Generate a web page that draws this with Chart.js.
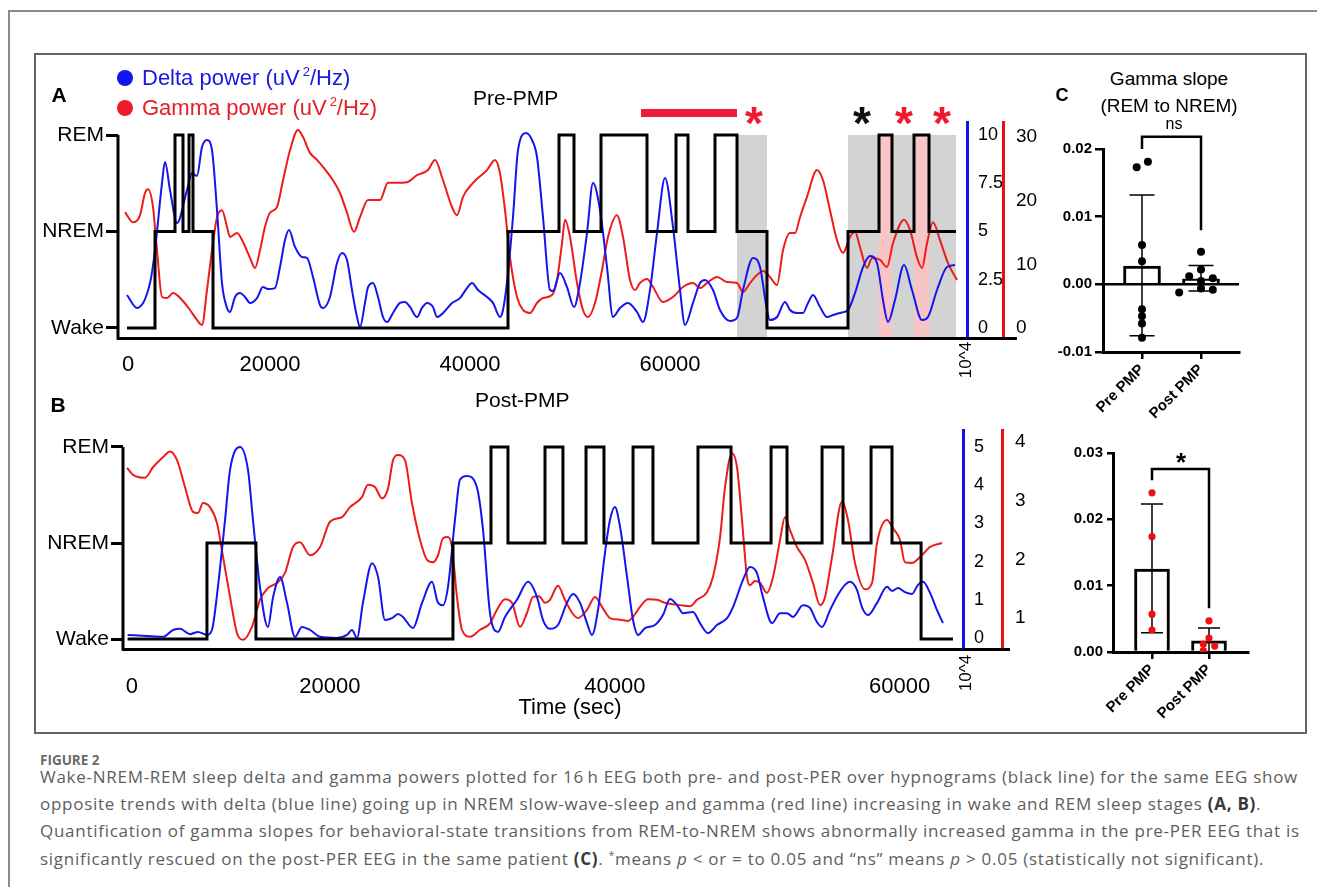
<!DOCTYPE html>
<html>
<head>
<meta charset="utf-8">
<script src="https://cdn.jsdelivr.net/npm/chart.js@4.4.1/dist/chart.umd.min.js"></script>
<style>
  body { margin: 0; background: #fff; }
  #page { position: relative; width: 1317px; height: 887px; overflow: hidden; font-family: 'Liberation Sans', Arial, sans-serif; color: #000; }
  .abs { position: absolute; white-space: nowrap; line-height: 1; }
  .c { transform: translate(-50%, -50%); }
  .l { transform: translateY(-50%); }
  canvas { position: absolute; }
  .dot { position: absolute; width: 16px; height: 16px; border-radius: 50%; }
  .cap { position: absolute; left: 40px; white-space: nowrap; font-family: 'Open Sans', sans-serif; font-size: 17px; color: #5e5e5e; line-height: 27px; }
  .cap b { color: #3a3a3a; }
</style>
</head>
<body>
<div id="page">
  <!-- page frame and figure frame -->
  <div class="abs" style="left:8px;top:10px;width:1400px;height:900px;border-top:2px solid #8c8c8c;border-left:2px solid #8c8c8c;"></div>
  <div class="abs" style="left:34px;top:53px;width:1273px;height:681px;border:2px solid #666;box-sizing:border-box;"></div>

  <canvas id="chartA" width="1010" height="296" style="left:36px;top:102px;width:1010px;height:296px"></canvas>
  <canvas id="chartB" width="1010" height="296" style="left:36px;top:410px;width:1010px;height:296px"></canvas>
  <canvas id="chartC1" width="213" height="292" style="left:1040px;top:135px;width:213px;height:292px"></canvas>
  <canvas id="chartC2" width="217" height="292" style="left:1045px;top:439px;width:217px;height:292px"></canvas>

  <!-- panel A texts -->
  <div class="abs c" style="left:59px;top:94px;font-size:21px;font-weight:bold">A</div>
  <div class="dot" style="left:117px;top:70px;background:#1414f0"></div>
  <div class="abs l" style="left:142px;top:78px;font-size:22px;color:#1818e0">Delta power (uV<span style="position:relative;top:-9px;font-size:13px;margin-left:3px">2</span>/Hz)</div>
  <div class="dot" style="left:117px;top:100px;background:#ee1b2b"></div>
  <div class="abs l" style="left:142px;top:108px;font-size:22px;color:#e81c24">Gamma power (uV<span style="position:relative;top:-9px;font-size:13px;margin-left:3px">2</span>/Hz)</div>
  <div class="abs l" style="left:473px;top:97px;font-size:21px">Pre-PMP</div>
  <div class="abs c" style="left:965px;top:360px;font-size:17px;transform:translate(-50%,-50%) rotate(-90deg)">10^4</div>

  <!-- panel B texts -->
  <div class="abs c" style="left:58px;top:404px;font-size:21px;font-weight:bold">B</div>
  <div class="abs l" style="left:475px;top:399px;font-size:21px">Post-PMP</div>
  <div class="abs c" style="left:965px;top:673px;font-size:17px;transform:translate(-50%,-50%) rotate(-90deg)">10^4</div>
  <div class="abs c" style="left:570px;top:707px;font-size:22px">Time (sec)</div>

  <!-- panel C texts -->
  <div class="abs c" style="left:1062px;top:95px;font-size:18px;font-weight:bold">C</div>
  <div class="abs c" style="left:1169px;top:78px;font-size:19px">Gamma slope</div>
  <div class="abs c" style="left:1169px;top:105px;font-size:19px">(REM to NREM)</div>
  <div class="abs c" style="left:1174px;top:124px;font-size:16px">ns</div>
  <div class="abs c" style="left:1181px;top:462px;font-size:26px;font-weight:bold">*</div>

  <!-- caption -->
  <div class="abs" style="left:40px;top:754px;font-family:'Open Sans',sans-serif;font-size:13.5px;font-weight:bold;color:#6a6a6a">FIGURE 2</div>
  <div class="cap" style="top:763px">Wake-NREM-REM sleep delta and gamma powers plotted for 16&#8201;h EEG both pre- and post-PER over hypnograms (black line) for the same EEG show</div>
  <div class="cap" style="top:790px">opposite trends with delta (blue line) going up in NREM slow-wave-sleep and gamma (red line) increasing in wake and REM sleep stages <b>(A, B)</b>.</div>
  <div class="cap" style="top:817px">Quantification of gamma slopes for behavioral-state transitions from REM-to-NREM shows abnormally increased gamma in the pre-PER EEG that is</div>
  <div class="cap" style="top:845px">significantly rescued on the post-PER EEG in the same patient <b>(C)</b>. <span style="position:relative;top:-6px;font-size:10px">*</span>means <i>p</i> &lt; or = to 0.05 and “ns” means <i>p</i> &gt; 0.05 (statistically not significant).</div>
</div>

<script>
// ---- shared labels ----
var stageLabels = ["Wake", "NREM", "REM"];
var xTickLabels = ["0", "20000", "40000", "60000"];
var xTickPosA = [5800, 20000, 40000, 60000];
var xTickPosB = [6100, 20000, 40000, 60000];
var deltaTicksA = [0, 2.5, 5, 7.5, 10];
var gammaTicksA = [0, 10, 20, 30];
var deltaTicksB = [0, 1, 2, 3, 4, 5];
var gammaTicksB = [1, 2, 3, 4];

// ---- panel A (Pre-PMP) ----
var hypnoA_time = [5700, 8500, 10500, 11300, 11900, 12300, 14300, 43800, 48900, 50400, 53100, 57700,
  60600, 61800, 64500, 66700, 69700, 77800, 80900, 82200, 84400, 85900, 88600];
var hypnoA_stage = [0, 1, 2, 1, 2, 1, 0, 1, 2, 1, 2, 1, 2, 1, 2, 1, 0, 1, 2, 1, 2, 1, 1];

var deltaA_time = [5700, 6700, 8000, 8500, 9200, 9500, 10000, 10700, 11700, 12200,
  12700, 13200, 13700, 14200, 14700, 15200, 15700, 16000, 16500, 17000,
  17500, 18000, 18700, 19300, 19800, 20500, 21000, 21500, 21900, 22500,
  23200, 23700, 24300, 25000, 25300, 26000, 26700, 27200, 27700, 28200,
  28700, 29000, 29500, 29800, 30300, 30800, 31300, 31700, 32300, 33000,
  33500, 34000, 34700, 35200, 35700, 36300, 36700, 37300, 38200, 39000,
  39700, 40200, 40800, 41700, 42300, 43000, 43300, 43800, 44300, 44800,
  45600, 46200, 46700, 47300, 48000, 48300, 49000, 49700, 50400, 51000,
  51700, 52300, 53000, 53700, 54300, 55000, 55800, 56700, 57300, 58000,
  58700, 59500, 60300, 61000, 61500, 62300, 63000, 63500, 64300, 65000,
  66000, 66700, 67300, 68300, 69000, 69700, 70000, 70700, 71500, 72000,
  72700, 73300, 73800, 74300, 75000, 75700, 76300, 77000, 77800, 78500,
  79300, 80000, 80700, 81300, 81800, 82500, 83400, 84200, 85200, 85800,
  86700, 87700, 88500];
var deltaA_power = [1.71, 1.04, 2.33, 4.04, 7.51, 8.60, 7.15, 5.44, 7.15, 8.03,
  7.88, 9.38, 9.74, 9.22, 6.11, 2.33, 1.04, 0.83, 1.61, 1.81,
  1.61, 1.30, 1.55, 2.12, 2.02, 2.07, 3.16, 4.56, 5.08, 4.20,
  3.68, 3.63, 2.64, 1.19, 1.04, 1.61, 3.37, 3.89, 3.52, 1.97,
  0.57, 0.05, 1.30, 2.12, 2.33, 1.61, 0.57, 0.31, 0.78, 1.30,
  1.35, 1.09, 0.57, 1.04, 1.30, 1.09, 0.57, 0.78, 1.30, 1.55,
  2.07, 2.33, 1.97, 1.61, 1.30, 0.57, 0.93, 2.85, 5.75, 9.22,
  10.1, 9.74, 8.86, 5.75, 1.97, 1.92, 2.85, 2.12, 1.09, 2.33,
  4.92, 7.51, 6.11, 3.16, 0.57, 1.04, 1.30, 0.83, 0.31, 1.97,
  4.92, 7.77, 5.23, 1.97, 0.16, 1.30, 2.33, 2.49, 1.97, 0.93,
  0.36, 0.52, 1.97, 3.63, 3.16, 0.93, 0.41, 0.57, 1.35, 0.93,
  0.78, 0.78, 1.30, 1.71, 1.09, 0.57, 0.67, 0.78, 0.93, 1.81,
  3.16, 3.73, 3.37, 1.45, 0.31, 1.45, 3.26, 1.97, 0.41, 0.57,
  1.97, 3.16, 3.26];

var gammaA_time = [5500, 6300, 7000, 7500, 7800, 8300, 8700, 9200, 9700, 10300,
  11200, 12000, 12700, 13200, 13700, 14200, 14700, 15200, 15700, 16000,
  16700, 17300, 18000, 18500, 19000, 19500, 20000, 20700, 21300, 22000,
  22800, 23300, 24000, 24700, 25300, 26300, 27000, 27700, 28400, 29000,
  29800, 31000, 31800, 32700, 33700, 34700, 35800, 36500, 37300, 38200,
  38700, 39300, 40300, 41700, 42500, 43000, 43500, 44000, 44700, 45300,
  46000, 46700, 47300, 48200, 48700, 49200, 49500, 50000, 50700, 51300,
  51800, 52500, 53200, 53800, 54700, 55300, 56000, 56500, 57000, 57700,
  58300, 59300, 60300, 61300, 62300, 63000, 63700, 64700, 65700, 66700,
  67300, 68000, 68700, 69300, 70000, 70700, 71300, 72000, 72500, 73000,
  73700, 74700, 75300, 76000, 76700, 77300, 78000, 78500, 79000, 79700,
  80200, 81000, 81700, 82300, 83400, 84000, 84700, 85200, 85700, 86300,
  87000, 87800, 88700];
var gammaA_power = [18.2, 16.6, 17.7, 21.2, 21.8, 19.0, 12.2, 4.87, 4.71, 5.49,
  4.40, 2.83, 1.26, 0.47, 5.97, 12.2, 17.4, 18.5, 15.9, 14.3,
  14.9, 13.5, 11.0, 9.42, 12.2, 15.9, 18.1, 19.0, 23.2, 27.9,
  31.1, 30.0, 27.5, 26.4, 25.3, 23.2, 21.2, 18.1, 15.1, 17.4,
  20.1, 20.1, 22.8, 22.8, 22.9, 24.0, 24.8, 26.4, 23.2, 19.0,
  17.7, 20.6, 22.8, 24.8, 26.4, 24.3, 18.5, 11.1, 4.87, 2.83,
  2.35, 3.92, 4.71, 5.18, 7.54, 13.3, 17.0, 14.3, 7.06, 2.83,
  1.73, 3.92, 9.11, 14.3, 17.7, 14.3, 7.54, 5.97, 7.06, 7.69,
  6.44, 4.08, 4.87, 6.44, 7.06, 6.28, 7.06, 8.01, 7.22, 7.06,
  5.65, 7.06, 8.32, 8.95, 8.01, 6.75, 12.2, 14.9, 14.9, 17.4,
  20.6, 24.8, 23.2, 18.5, 13.8, 11.8, 14.3, 15.1, 12.7, 9.42,
  11.0, 10.7, 9.58, 13.3, 17.0, 15.4, 11.1, 9.42, 13.3, 16.6,
  13.8, 10.2, 7.54];

// marked REM-to-NREM windows in panel A
var grayBandsA = [[66700, 69700], [77800, 88600]];
var pinkBandsA = [[80900, 82200], [84400, 85900]];
var redBarA = [57100, 66700];
var starTimesA = [68400, 79200, 83400, 87200];
var starColorsA = ["#ee1b2b", "#111", "#ee1b2b", "#ee1b2b"];

// ---- panel B (Post-PMP) ----
var hypnoB_time = [5800, 11370, 14810, 28640, 31310, 32500, 35100, 36360, 37980, 39240, 41280,
  42680, 45840, 48160, 50970, 52090, 54550, 56020, 57990, 59460, 61500, 63740];
var hypnoB_stage = [0, 1, 0, 1, 2, 1, 2, 1, 2, 1, 2, 1, 2, 1, 2, 1, 2, 1, 2, 1, 0, 0];

var deltaB_time = [5800, 7160, 8280, 8990, 9480, 10180, 10740, 11370, 11720, 12140,
  12640, 12990, 13690, 14250, 14600, 15090, 15650, 16010, 16500, 16990,
  17550, 18040, 18600, 19310, 20500, 21200, 21550, 21900, 22320, 22960,
  23380, 23870, 24360, 24780, 25130, 25830, 26470, 27170, 27590, 27940,
  28290, 28780, 29130, 29620, 30330, 30750, 31240, 31800, 32290, 33130,
  33910, 34540, 34960, 35450, 36010, 36640, 37070, 37560, 38050, 38400,
  38820, 39310, 39660, 40010, 40370, 40860, 41280, 41630, 42120, 42820,
  43380, 43880, 44370, 44790, 45490, 45980, 46540, 47170, 47880, 48300,
  49000, 49490, 49980, 50400, 51040, 51600, 52090, 52510, 53210, 53700,
  54190, 54550, 55110, 55670, 56160, 56510, 57000, 57350, 57770, 58410,
  59110, 59460, 59880, 60370, 60860, 61280, 61640, 62130, 62620, 63040];
var deltaB_power = [0.08, 0.05, 0.03, 0.21, 0.24, 0.10, 0.16, 0.08, 0.21, 1.34,
  3.09, 4.40, 5.00, 4.40, 3.09, 1.34, 0.29, 1.07, 1.60, 0.92,
  0.03, 0.29, 0.21, 0.03, 0.00, 0.08, 0.21, 0.00, 0.92, 1.96,
  1.60, 0.47, 0.52, 0.63, 0.55, 0.26, 0.92, 1.47, 0.92, 0.86,
  1.34, 3.09, 4.14, 4.24, 3.93, 2.83, 0.65, 0.16, 0.55, 1.00,
  1.47, 1.07, 0.47, 0.24, 0.34, 0.92, 1.15, 0.92, 0.39, 0.08,
  0.73, 2.23, 3.09, 3.43, 2.91, 1.60, 0.47, 0.08, 0.26, 0.34,
  0.60, 1.02, 0.86, 0.65, 0.68, 0.39, 0.13, 0.34, 0.52, 0.81,
  1.52, 1.86, 1.70, 1.07, 0.39, 0.65, 0.65, 0.55, 0.86, 0.79,
  0.42, 0.29, 0.73, 1.13, 1.39, 1.47, 1.26, 0.81, 0.60, 0.92,
  1.34, 1.23, 1.31, 1.20, 1.15, 1.39, 1.47, 1.18, 0.73, 0.39];

var gammaB_time = [5760, 6180, 7020, 7580, 8280, 8780, 9270, 9830, 10390, 10740,
  11090, 11580, 12070, 12500, 12990, 13480, 13900, 14530, 15090, 15650,
  16290, 16850, 17410, 17900, 18600, 19310, 20010, 20850, 21410, 22250,
  22670, 23170, 23660, 24080, 24430, 24780, 25270, 25760, 26330, 26820,
  27240, 27590, 27940, 28290, 28570, 28920, 29270, 29840, 30540, 31240,
  31730, 32290, 32780, 33350, 33840, 34260, 34680, 35100, 35450, 36010,
  36500, 37000, 37420, 38050, 38610, 39100, 39660, 40370, 40930, 41280,
  41770, 42330, 42960, 43520, 44580, 45280, 45770, 46470, 46890, 47390,
  47740, 48230, 48580, 48930, 49280, 49490, 49840, 50190, 50680, 51110,
  51600, 51950, 52300, 52790, 53350, 53910, 54410, 54760, 55250, 55950,
  56370, 56860, 57560, 58060, 58410, 59110, 59530, 60020, 60370, 60860,
  61430, 62130, 62970];
var gammaB_power = [3.56, 3.44, 3.39, 3.57, 3.74, 3.84, 3.69, 3.23, 2.81, 2.79,
  2.96, 2.89, 2.62, 2.04, 1.36, 0.74, 0.63, 0.85, 1.31, 1.51,
  1.60, 1.77, 2.21, 2.29, 2.07, 2.21, 2.64, 2.72, 2.89, 3.06,
  3.27, 3.23, 3.04, 3.21, 3.69, 3.78, 3.69, 2.96, 2.33, 1.99,
  1.95, 2.07, 2.36, 2.38, 2.21, 1.36, 0.80, 0.68, 0.80, 0.91,
  1.14, 1.32, 1.26, 0.85, 1.09, 1.36, 1.37, 1.26, 1.31, 1.55,
  1.31, 1.09, 1.00, 1.14, 1.36, 1.19, 1.00, 0.97, 0.95, 1.02,
  1.19, 1.32, 1.31, 1.26, 1.22, 1.20, 1.31, 1.44, 1.70, 2.38,
  3.23, 3.81, 3.57, 2.67, 1.70, 1.56, 1.63, 1.60, 1.43, 1.70,
  2.33, 2.72, 2.50, 2.21, 1.99, 1.60, 1.22, 1.36, 2.04, 2.98,
  2.67, 1.94, 1.49, 1.60, 2.28, 2.67, 2.53, 2.33, 1.95, 1.94,
  2.04, 2.21, 2.28];

// ---- panel C (gamma slope, REM to NREM) ----
var groups = ["Pre PMP", "Post PMP"];
var groupPos = [0, 1];
var slopeMeanC1 = [0.0027, 0.0008];
var slopeSdHighC1 = [0.0132, 0.0028];
var slopeSdLowC1 = [-0.0076, -0.0010];
var slopePreC1 = [0.0173, 0.0181, 0.0058, 0.0034, -0.0037, -0.0047, -0.0058, -0.0079];
var jitterPreC1 = [-0.09, 0.1, 0, 0, 0, 0, 0, 0];
var slopePostC1 = [0.0048, 0.0022, 0.0012, 0.0009, 0.0005, -0.0006, -0.0008, -0.0012];
var jitterPostC1 = [0, 0, -0.2, 0.2, 0, 0, 0.2, -0.37];
var yTicksC1 = [-0.01, 0, 0.01, 0.02];

var slopeMeanC2 = [0.0125, 0.0017];
var slopeSdHighC2 = [0.0223, 0.0036];
var slopeSdLowC2 = [0.0029, 0.0];
var slopePreC2 = [0.0240, 0.0174, 0.0057, 0.0033];
var jitterPreC2 = [0, 0, 0, 0];
var slopePostC2 = [0.0047, 0.0021, 0.0012, 0.0009, 0.0002];
var jitterPostC2 = [0, 0, -0.1, 0.1, -0.1];
var yTicksC2 = [0, 0.01, 0.02, 0.03];

var BLUE = "#1414ee";
var RED = "#ee1b1b";
Chart.defaults.font.family = "'Liberation Sans', Arial, sans-serif";
Chart.defaults.color = "#000";

function pts(xs, ys) {
  return xs.map(function (x, i) { return { x: x, y: ys[i] }; });
}
function fixedTicks(values) {
  return function (scale) { scale.ticks = values.map(function (v) { return { value: v }; }); };
}
function setWidth(w) { return function (s) { s.width = w; }; }
function setHeight(h) { return function (s) { s.height = h; }; }

// shaded windows, left axis, axis extension, red bar and stars
function sleepExtras(p) {
  return {
    id: "sleepExtras",
    beforeDatasetsDraw: function (chart) {
      var ctx = chart.ctx, area = chart.chartArea, x = chart.scales.x;
      var top = chart.scales.yH.getPixelForValue(2);
      ctx.save();
      function band(r, color) {
        var a = x.getPixelForValue(r[0]), b = x.getPixelForValue(r[1]);
        ctx.fillStyle = color;
        ctx.fillRect(a, top, b - a, area.bottom - top - 1);
      }
      p.gray.forEach(function (r) { band(r, "#d3d3d3"); });
      p.pink.forEach(function (r) { band(r, "#f7c5c6"); });
      ctx.restore();
    },
    afterDatasetsDraw: function (chart) {
      var ctx = chart.ctx, area = chart.chartArea, x = chart.scales.x;
      ctx.save();
      ctx.strokeStyle = "#000";
      ctx.lineWidth = 3;
      ctx.beginPath();
      ctx.moveTo(area.left, chart.scales.yH.getPixelForValue(2));
      ctx.lineTo(area.left, area.bottom + 1.5);
      ctx.moveTo(area.right, area.bottom + 0.5);
      ctx.lineTo(area.right + p.axisExtra, area.bottom + 0.5);
      ctx.stroke();
      if (p.bar) {
        ctx.strokeStyle = "#ee1b3a";
        ctx.lineWidth = 8;
        ctx.beginPath();
        ctx.moveTo(x.getPixelForValue(p.bar[0]), area.top - 9);
        ctx.lineTo(x.getPixelForValue(p.bar[1]), area.top - 9);
        ctx.stroke();
      }
      ctx.font = "bold 46px 'Liberation Sans', Arial, sans-serif";
      ctx.textAlign = "center";
      ctx.textBaseline = "alphabetic";
      p.stars.forEach(function (t, i) {
        ctx.fillStyle = p.starColors[i];
        ctx.fillText("*", x.getPixelForValue(t), area.top + 17);
      });
      ctx.restore();
    }
  };
}

function sleepChart(id, p) {
  return new Chart(document.getElementById(id), {
    type: "line",
    data: {
      datasets: [
        { data: pts(p.hypT, p.hypS), yAxisID: "yH", stepped: "before", borderColor: "#000",
          borderWidth: 3, pointRadius: 0, borderJoinStyle: "miter" },
        { data: pts(p.dT, p.dV), yAxisID: "yD", borderColor: BLUE, borderWidth: 2,
          pointRadius: 0, cubicInterpolationMode: "monotone" },
        { data: pts(p.gT, p.gV), yAxisID: "yG", borderColor: RED, borderWidth: 2,
          pointRadius: 0, cubicInterpolationMode: "monotone" }
      ]
    },
    options: {
      responsive: false,
      animation: false,
      events: [],
      layout: { padding: { top: 20 } },
      plugins: { legend: { display: false }, tooltip: { enabled: false } },
      scales: {
        x: {
          type: "linear", min: p.xMin, max: p.xMax, bounds: "data",
          grid: { display: false },
          border: { display: true, width: 3, color: "#000" },
          afterBuildTicks: fixedTicks(p.xTicks),
          ticks: { callback: function (v, i) { return xTickLabels[i]; }, font: { size: 22 },
            padding: p.xPad, maxRotation: 0, autoSkip: false },
          afterFit: setHeight(p.xH)
        },
        yH: {
          type: "linear", position: "left", min: p.hMin, max: p.hMax, bounds: "data",
          grid: { display: true, drawOnChartArea: false, drawTicks: true, tickLength: 12, lineWidth: 3, color: "#000" },
          border: { display: false },
          afterBuildTicks: fixedTicks([0, 1, 2]),
          ticks: { callback: function (v, i) { return stageLabels[i]; }, font: { size: 21 }, padding: 2, autoSkip: false },
          afterFit: setWidth(p.leftW)
        },
        yD: {
          type: "linear", position: "right", weight: 0, min: p.dMin, max: p.dMax, bounds: "data",
          grid: { display: false },
          border: { display: true, width: 3, color: "#1010ee" },
          afterBuildTicks: fixedTicks(p.dTicks),
          ticks: { font: { size: 18 }, padding: 3, autoSkip: false, callback: function (v) { return String(v); } },
          afterFit: setWidth(p.dW)
        },
        yG: {
          type: "linear", position: "right", weight: 1, min: p.gMin, max: p.gMax, bounds: "data",
          grid: { display: false },
          border: { display: true, width: 3, color: "#e81010" },
          afterBuildTicks: fixedTicks(p.gTicks),
          ticks: { font: { size: 19 }, padding: 5, autoSkip: false, callback: function (v) { return String(v); } },
          afterFit: setWidth(p.gW)
        }
      }
    },
    plugins: [sleepExtras(p)]
  });
}

sleepChart("chartA", {
  hypT: hypnoA_time, hypS: hypnoA_stage, dT: deltaA_time, dV: deltaA_power, gT: gammaA_time, gV: gammaA_power,
  xMin: 4800, xMax: 89700, xTicks: xTickPosA, xPad: 6, xH: 60,
  hMin: -0.104, hMax: 2.135, dMin: -0.518, dMax: 10.674, gMin: -1.571, gMax: 32.35,
  dTicks: deltaTicksA, gTicks: gammaTicksA, leftW: 82, dW: 36, gW: 43, axisExtra: 50,
  gray: grayBandsA, pink: pinkBandsA, bar: redBarA, stars: starTimesA, starColors: starColorsA
});

sleepChart("chartB", {
  hypT: hypnoB_time, hypS: hypnoB_stage, dT: deltaB_time, dV: deltaB_power, gT: gammaB_time, gV: gammaB_power,
  xMin: 5476, xMax: 64444, xTicks: xTickPosB, xPad: 17, xH: 57,
  hMin: -0.104, hMax: 2.177, dMin: -0.288, dMax: 5.445, gMin: 0.472, gMax: 4.205,
  dTicks: deltaTicksB, gTicks: gammaTicksB, leftW: 87, dW: 39, gW: 44, axisExtra: 47,
  gray: [], pink: [], bar: null, stars: [], starColors: []
});

// error bars and significance bracket
function statsExtras(p) {
  return {
    id: "statsExtras",
    afterDatasetDraw: function (chart, args) {
      if (args.index !== 0) return;
      var ctx = chart.ctx, x = chart.scales.x, y = chart.scales.y;
      ctx.save();
      ctx.strokeStyle = "#000";
      ctx.lineWidth = 1.5;
      groupPos.forEach(function (g, i) {
        var px = x.getPixelForValue(g), hi = y.getPixelForValue(p.hi[i]), lo = y.getPixelForValue(p.lo[i]);
        ctx.beginPath();
        ctx.moveTo(px, hi); ctx.lineTo(px, lo);
        ctx.moveTo(px - p.cap, hi); ctx.lineTo(px + p.cap, hi);
        ctx.moveTo(px - p.cap, lo); ctx.lineTo(px + p.cap, lo);
        ctx.stroke();
      });
      ctx.restore();
    },
    afterDraw: function (chart) {
      var ctx = chart.ctx, x = chart.scales.x, y = chart.scales.y, b = p.bracket;
      var x0 = x.getPixelForValue(groupPos[0]), x1 = x.getPixelForValue(groupPos[1]);
      ctx.save();
      ctx.strokeStyle = "#000";
      ctx.lineWidth = 2.5;
      ctx.beginPath();
      ctx.moveTo(x0, y.getPixelForValue(b[1]));
      ctx.lineTo(x0, y.getPixelForValue(b[0]));
      ctx.lineTo(x1, y.getPixelForValue(b[0]));
      ctx.lineTo(x1, y.getPixelForValue(b[2]));
      ctx.stroke();
      ctx.restore();
    }
  };
}

function slopeChart(id, p) {
  var dots = p.pre.map(function (v, i) { return { x: groupPos[0] + p.preJ[i], y: v }; })
    .concat(p.post.map(function (v, i) { return { x: groupPos[1] + p.postJ[i], y: v }; }));
  return new Chart(document.getElementById(id), {
    type: "bar",
    data: {
      datasets: [
        { type: "bar", data: pts(groupPos, p.mean), backgroundColor: "#fff", borderColor: "#000",
          borderWidth: 3, barThickness: p.barW, order: 2 },
        { type: "scatter", data: dots, backgroundColor: p.dot, pointBorderWidth: 0,
          pointRadius: p.r, order: 1 }
      ]
    },
    options: {
      responsive: false,
      animation: false,
      events: [],
      layout: { padding: { top: 14, right: 14 } },
      plugins: { legend: { display: false }, tooltip: { enabled: false } },
      scales: {
        x: {
          type: "linear", min: p.xMin, max: p.xMax, offset: false, bounds: "data",
          grid: { offset: false, drawOnChartArea: false, drawTicks: true, tickLength: 7, lineWidth: 2.5, color: "#000" },
          border: { display: true, width: 3, color: "#000" },
          afterBuildTicks: fixedTicks(groupPos),
          ticks: { callback: function (v, i) { return groups[i]; }, autoSkip: false, minRotation: 45, maxRotation: 45,
            font: { size: 15, weight: "bold" }, padding: 2 },
          afterFit: setHeight(p.xH)
        },
        y: {
          type: "linear", min: p.yTicks[0], max: p.yTicks[p.yTicks.length - 1], bounds: "data",
          grid: { drawOnChartArea: p.zeroLine, drawTicks: true, tickLength: p.tl, lineWidth: 2.5, tickColor: "#000",
            color: function (c) { return c.tick && c.tick.value === 0 ? "#000" : "rgba(0,0,0,0)"; } },
          border: { display: true, width: 3, color: "#000" },
          afterBuildTicks: fixedTicks(p.yTicks),
          ticks: { callback: function (v) { return v.toFixed(2); }, font: { size: 15, weight: "bold" }, padding: p.tp, autoSkip: false },
          afterFit: setWidth(p.yW)
        }
      }
    },
    plugins: [statsExtras(p)]
  });
}

slopeChart("chartC1", {
  mean: slopeMeanC1, hi: slopeSdHighC1, lo: slopeSdLowC1, pre: slopePreC1, preJ: jitterPreC1,
  post: slopePostC1, postJ: jitterPostC1, yTicks: yTicksC1, dot: "#000", r: 4,
  xMin: -0.661, xMax: 1.644, barW: 37, cap: 12.5, bracket: [0.0218, 0.0200, 0.0080],
  zeroLine: true, tl: 8, tp: 3, yW: 63, xH: 75
});

slopeChart("chartC2", {
  mean: slopeMeanC2, hi: slopeSdHighC2, lo: slopeSdLowC2, pre: slopePreC2, preJ: jitterPreC2,
  post: slopePostC2, postJ: jitterPostC2, yTicks: yTicksC2, dot: "#ee1111", r: 3.6,
  xMin: -0.684, xMax: 1.684, barW: 35, cap: 11, bracket: [0.0276, 0.0259, 0.0066],
  zeroLine: false, tl: 6, tp: 4, yW: 68, xH: 79
});

// stretch caption lines to the measured column width
var capLines = document.querySelectorAll(".cap");
var w0 = capLines[0].getBoundingClientRect().width;
var ls = (1258 - w0) / capLines[0].textContent.length;
capLines.forEach(function (el) { el.style.letterSpacing = ls + "px"; });
</script>
</body>
</html>
